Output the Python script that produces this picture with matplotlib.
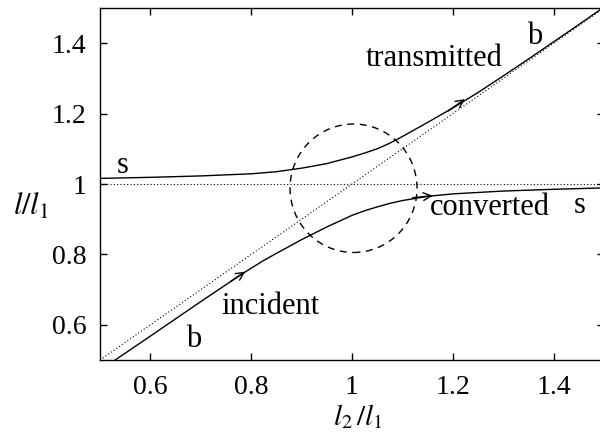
import matplotlib
matplotlib.use("Agg")
import matplotlib.pyplot as plt
from matplotlib.patches import Ellipse

# values
upper_x = [0.50, 0.60, 0.70, 0.80, 0.85, 0.90, 0.95, 1.00, 1.025, 1.05, 1.075,
           1.10, 1.125, 1.15, 1.20, 1.25, 1.30, 1.35, 1.40, 1.45, 1.50]
upper_y = [1.016, 1.019, 1.023, 1.029, 1.035, 1.045, 1.058, 1.077, 1.088, 1.100, 1.116,
           1.135, 1.155, 1.175, 1.216, 1.260, 1.307, 1.355, 1.404, 1.453, 1.503]
lower_x = [0.53, 0.60, 0.70, 0.75, 0.775, 0.80, 0.825, 0.85, 0.90, 0.95, 1.00,
           1.025, 1.05, 1.075, 1.10, 1.15, 1.20, 1.30, 1.40, 1.50]
lower_y = [0.500, 0.568, 0.666, 0.714, 0.738, 0.761, 0.783, 0.803, 0.842, 0.878, 0.911,
           0.924, 0.935, 0.945, 0.953, 0.965, 0.972, 0.980, 0.985, 0.989]

diag = [0.5, 1.5]
level = 1.0
circle_center = (1.003, 0.988)
circle_w, circle_h = 0.252, 0.365

plt.rcParams["font.family"] = ["Liberation Serif", "DejaVu Serif"]
plt.rcParams["mathtext.fontset"] = "stix"

fig = plt.figure(figsize=(6.0, 4.34), dpi=100)
ax = fig.add_axes([0.1667, 0.1705, 0.84, 0.811])

ax.plot(diag, diag, color="black", lw=0.8, ls=(0, (1, 2)))
ax.plot(diag, [level, level], color="black", lw=0.8, ls=(0, (1, 2)))
ax.plot(upper_x, upper_y, color="black", lw=1.0)
ax.plot(lower_x, lower_y, color="black", lw=1.0)

ax.add_patch(Ellipse(circle_center, circle_w, circle_h, fill=False,
                     ec="black", lw=1.0, ls=(0, (5, 4))))

# open arrowheads along the curves
arrows = [((0.788, 0.751), (0.76, 0.724)),
          ((1.224, 1.241), (1.19, 1.207)),
          ((1.160, 0.967), (1.12, 0.961))]
for tip, tail in arrows:
    ax.annotate("", xy=tip, xytext=tail,
                arrowprops=dict(arrowstyle="->", color="black", lw=1.0,
                                mutation_scale=14, shrinkA=0, shrinkB=0))

fs = 22
ax.text(0.544, 1.052, "s", fontsize=fs, ha="center", va="center")
ax.text(1.163, 1.357, "transmitted", fontsize=fs, ha="center", va="center")
ax.text(1.363, 1.420, "b", fontsize=fs, ha="center", va="center")
ax.text(1.274, 0.934, "converted", fontsize=fs, ha="center", va="center")
ax.text(1.452, 0.940, "s", fontsize=fs, ha="center", va="center")
ax.text(0.839, 0.652, "incident", fontsize=fs, ha="center", va="center")
ax.text(0.685, 0.557, "b", fontsize=fs, ha="center", va="center")

ax.set_xlim(0.5, 1.5)
ax.set_ylim(0.5, 1.5)
ax.set_xticks([0.6, 0.8, 1.0, 1.2, 1.4])
ax.set_xticklabels(["0.6", "0.8", "1", "1.2", "1.4"])
ax.set_yticks([0.6, 0.8, 1.0, 1.2, 1.4])
ax.set_yticklabels(["0.6", "0.8", "1", "1.2", "1.4"])
ax.tick_params(direction="in", length=5, width=1, top=True, right=True,
               labelsize=20, pad=10)
ax.tick_params(axis="x", pad=11)
for sp in ax.spines.values():
    sp.set_linewidth(1.0)

ax.set_xlabel(r"$l_2\,/l_1$", fontsize=21, va="center")
ax.xaxis.set_label_coords(0.512, -0.16)
ax.set_ylabel(r"$l/l_1$", fontsize=fs, rotation=0, va="center")
ax.yaxis.set_label_coords(-0.137, 0.435)

fig.savefig("out.png", dpi=100)
